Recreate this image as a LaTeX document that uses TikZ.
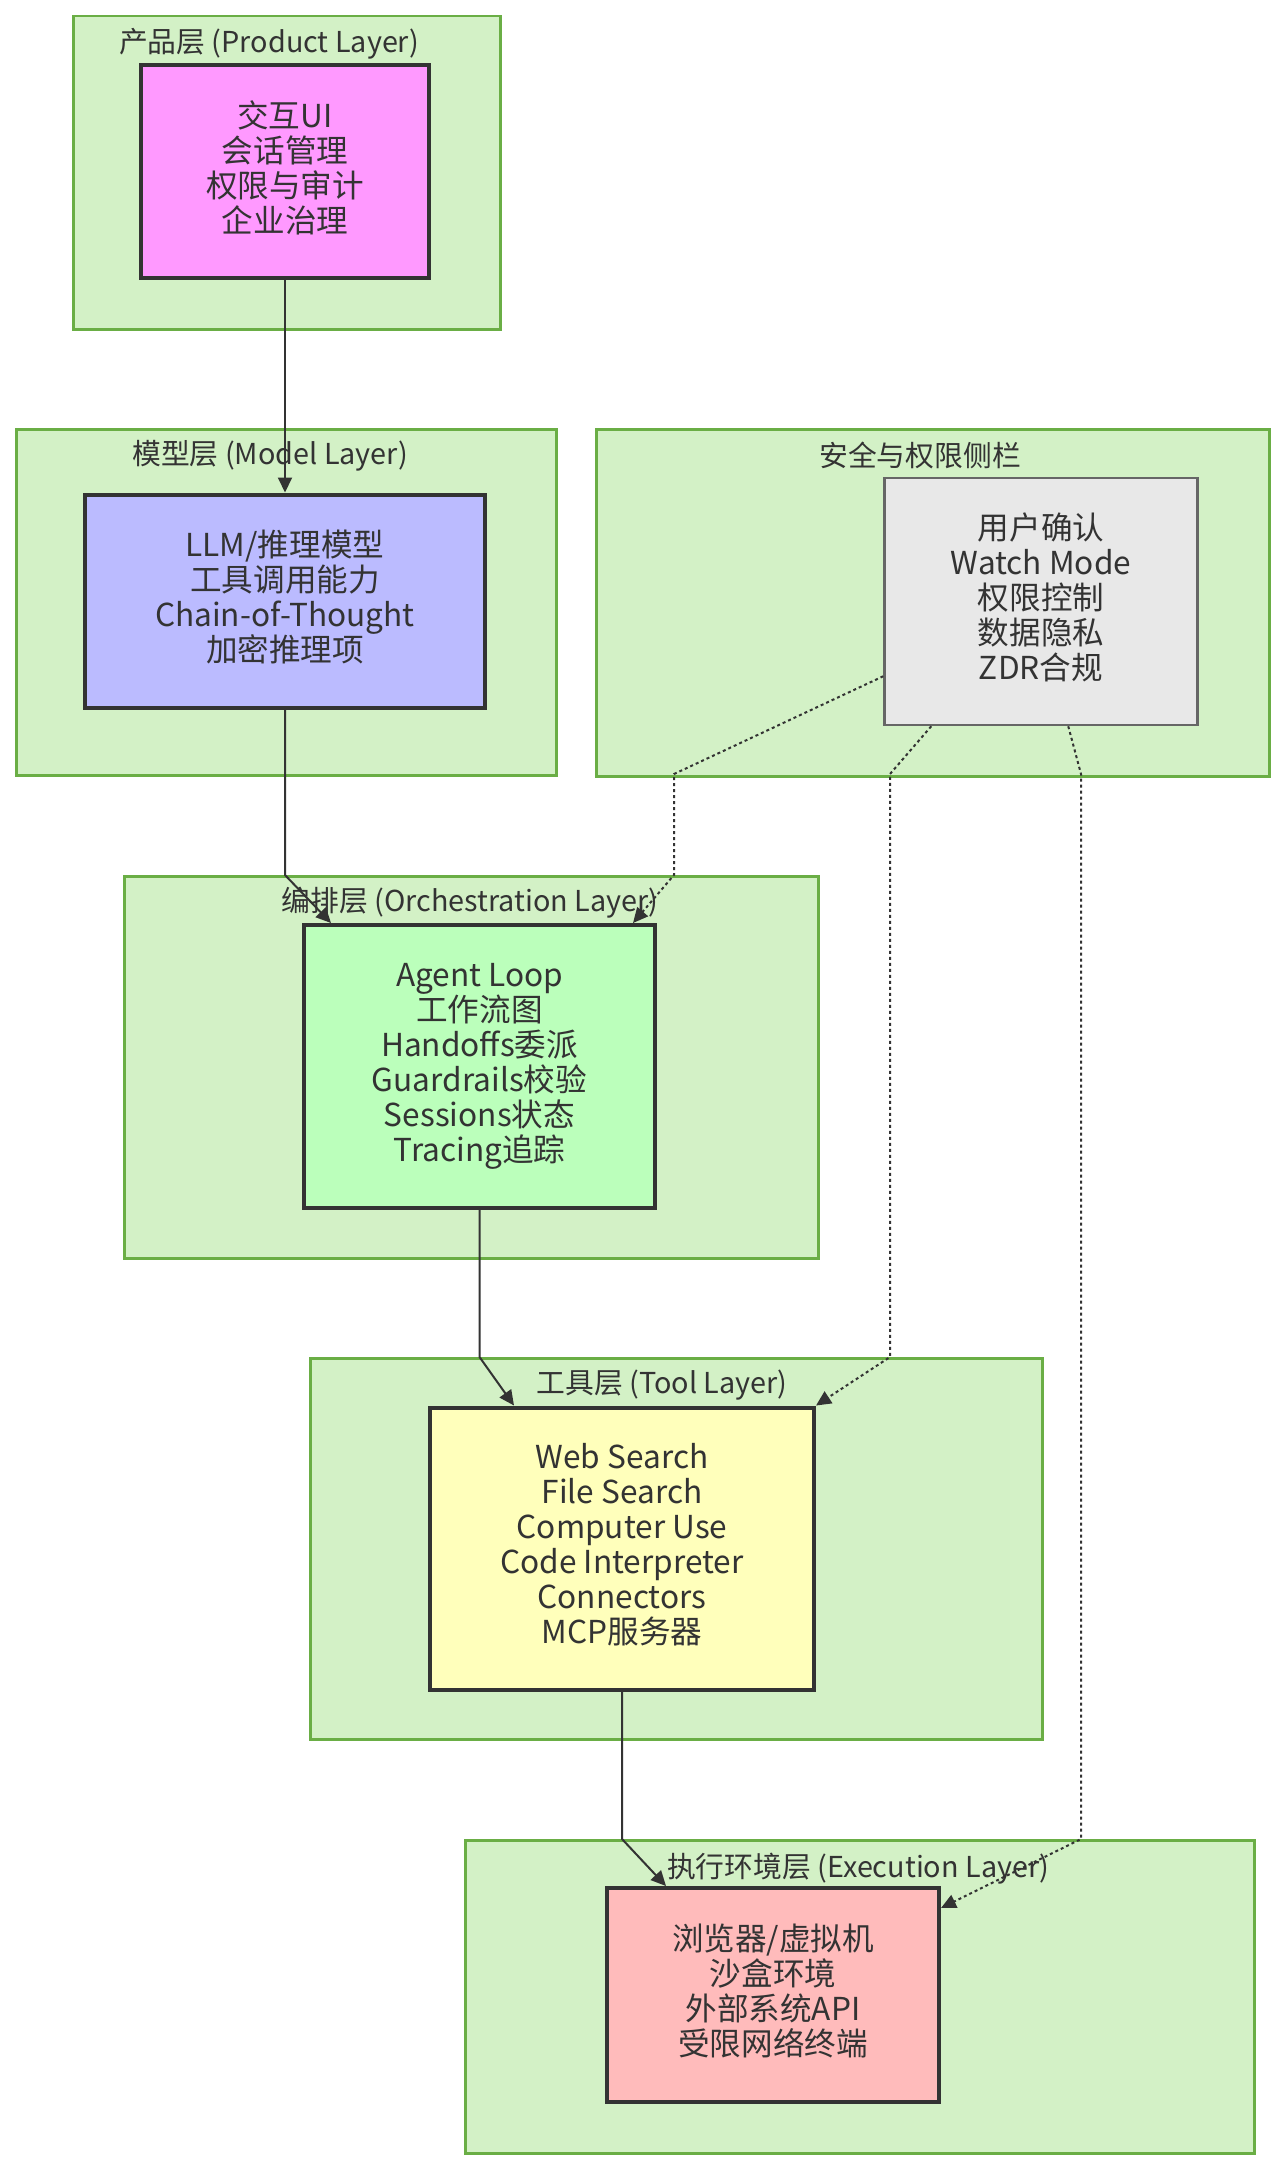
\documentclass[tikz,border=0pt]{standalone}
\usepackage{fontspec}
\setmainfont{Noto Sans CJK SC}
\usetikzlibrary{arrows.meta,calc}
\definecolor{clfill}{HTML}{D3F1C6}
\definecolor{cldraw}{HTML}{6AAE45}
\definecolor{txt}{HTML}{333333}
\definecolor{cprodc}{HTML}{FF99FF}
\definecolor{cmodelc}{HTML}{BBBBFF}
\definecolor{corchc}{HTML}{BBFFBB}
\definecolor{ctoolc}{HTML}{FFFFBB}
\definecolor{cexecc}{HTML}{FFBBBB}
\definecolor{csecc}{HTML}{E8E8E8}
\definecolor{secdraw}{HTML}{666666}
\newcommand{\liftend}{\rule[-10pt]{0pt}{1pt}}
\tikzset{
  cluster/.style={draw=cldraw, fill=clfill, line width=2.5pt, inner sep=0pt, anchor=north west},
  clabel/.style={text=txt, font=\fontsize{28.8}{34}\selectfont, inner sep=0pt},
  box/.style={draw=txt, line width=4pt, inner sep=0pt, align=center, text=txt,
    font=\fontsize{31.6}{35}\selectfont},
  secbox/.style={box, draw=secdraw, line width=2.5pt},
  flow/.style={draw=txt, line width=2pt, -{Triangle[length=15pt,width=14pt]}},
  dflow/.style={flow, dash pattern=on 3pt off 3pt},
}
\begin{document}
\begin{tikzpicture}[x=1pt,y=-1pt]
\useasboundingbox (0,0) rectangle (1284,2170);
\fill[white] (0,0) rectangle (1284,2170);
% clusters
\node[cluster, minimum width=427pt, minimum height=313pt] (cprod) at (72,15) {};
\node[cluster, minimum width=540pt, minimum height=346pt] (cmodel) at (15,428) {};
\node[cluster, minimum width=673pt, minimum height=347pt] (csec) at (595,428) {};
\node[cluster, minimum width=694pt, minimum height=382pt] (corch) at (123,875) {};
\node[cluster, minimum width=732pt, minimum height=381pt] (ctool) at (309,1357) {};
\node[cluster, minimum width=789pt, minimum height=313pt] (cexec) at (464,1839) {};
% cluster labels
\node[clabel] (lprod) at (269,44) {产品层 (Product Layer)};
\node[clabel] (lmodel) at (270,456) {模型层 (Model Layer)};
\node[clabel] (lsec) at (920,455) {安全与权限侧栏};
\node[clabel] (lorch) at (470,903) {编排层 (Orchestration Layer)};
\node[clabel] (ltool) at (662,1385) {工具层 (Tool Layer)};
\node[clabel] (lexec) at (858,1869) {执行环境层 (Execution Layer)};
% nodes
\node[box, fill=cprodc, minimum width=288pt, minimum height=213pt] (product) at (285,171.5)
  {交互UI\\会话管理\\权限与审计\\企业治理\liftend};
\node[box, fill=cmodelc, minimum width=400pt, minimum height=213pt] (model) at (285,601)
  {LLM/推理模型\\工具调用能力\\Chain-of-Thought\\加密推理项\liftend};
\node[secbox, fill=csecc, minimum width=313pt, minimum height=247pt] (sec) at (1041,601.5)
  {用户确认\\Watch Mode\\权限控制\\数据隐私\\ZDR合规\liftend};
\node[box, fill=corchc, minimum width=351pt, minimum height=283pt] (orch) at (479.5,1066.5)
  {Agent Loop\\工作流图\\Handoffs委派\\Guardrails校验\\Sessions状态\\Tracing追踪};
\node[box, fill=ctoolc, minimum width=384pt, minimum height=282pt] (tool) at (622,1548.5)
  {Web Search\\File Search\\Computer Use\\Code Interpreter\\Connectors\\MCP服务器\liftend};
\node[box, fill=cexecc, minimum width=332pt, minimum height=214pt] (exec) at (773,1995)
  {浏览器/虚拟机\\沙盒环境\\外部系统API\\受限网络终端\liftend};
% bend points
\coordinate (s1) at (674,774);
\coordinate (s2) at (674,875);
\coordinate (t1) at (890,774);
\coordinate (t2) at (890,1357);
\coordinate (e1) at (1081,774);
\coordinate (e2) at (1081,1839);
% edges
\draw[flow] (product.south) -- (model.north);
\draw[flow] (model.south) -- (model.south |- corch.north) -- ($(orch.north west)+(29,0)$);
\draw[flow] (orch.south) -- (orch.south |- ctool.north) -- ($(tool.north west)+(86,0)$);
\draw[flow] (tool.south) -- (tool.south |- cexec.north) -- ($(exec.north west)+(61,0)$);
\draw[dflow] ($(sec.south west)+(0,-50)$) -- (s1) -- (s2) -- ($(orch.north east)+(-24,0)$);
\draw[dflow] ($(sec.south west)+(48,0)$) -- (t1) -- (t2) -- ($(tool.north east)+(0,0)$);
\draw[dflow] ($(sec.south west)+(185,0)$) -- (e1) -- (e2) -- ($(exec.north east)+(0,22)$);
\end{tikzpicture}
\end{document}
